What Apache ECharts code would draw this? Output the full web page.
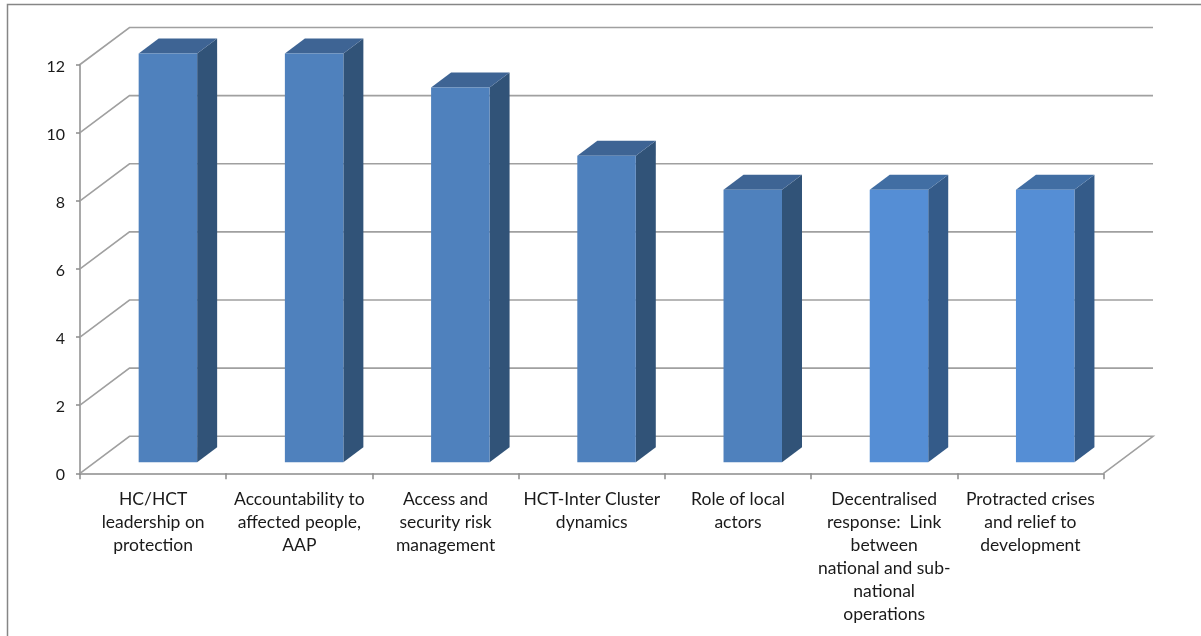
<!DOCTYPE html>
<html>
<head>
<meta charset="utf-8">
<title>Priority topics</title>
<style>
  html, body { margin: 0; padding: 0; background: #ffffff; }
  #chart { width: 1201px; height: 636px; }
</style>
<script src="https://cdn.jsdelivr.net/npm/echarts@6/dist/echarts.min.js"></script>
</head>
<body>
<div id="chart"></div>
<script>
const categories = [
  'HC/HCT\nleadership on\nprotection',
  'Accountability to\naffected people,\nAAP',
  'Access and\nsecurity risk\nmanagement',
  'HCT-Inter Cluster\ndynamics',
  'Role of local\nactors',
  'Decentralised\nresponse:  Link\nbetween\nnational and sub-\nnational\noperations',
  'Protracted crises\nand relief to\ndevelopment'
];
const values = [12, 12, 11, 9, 8, 8, 8];
const valueTicks = [0, 2, 4, 6, 8, 10, 12];

// Face colours for the box drawn at each category
const frontColors = ['#4f81bd', '#4f81bd', '#4f81bd', '#4f81bd', '#4f81bd', '#558ed5', '#558ed5'];
const topColors   = ['#3e6494', '#3e6494', '#3e6494', '#3e6494', '#3e6494', '#416ea3', '#416ea3'];
const sideColors  = ['#315378', '#315378', '#315378', '#315378', '#315378', '#345b89', '#345b89'];

// Oblique projection used for the pseudo-3D walls and boxes
const WALL_DX = 49.5, WALL_DY = -37;
const BOX_INSET_DX = 14.8, BOX_INSET_DY = -11;
const BOX_DX = 20, BOX_DY = -15;
const GRID_COLOR = '#a0a0a0';
const AXIS_COLOR = '#8c8c8c';

function renderWall(params, api) {
  const grid = params.coordSys;
  const p = api.coord([0, api.value(1)]);
  const y = p[1];
  const right = grid.x + grid.width;
  const points = [[grid.x, y], [grid.x + WALL_DX, y + WALL_DY], [right + WALL_DX, y + WALL_DY]];
  if (api.value(1) === 0) points.push([right, y]);
  return {
    type: 'polyline',
    shape: { points },
    style: { fill: 'none', stroke: GRID_COLOR, lineWidth: 1.6 },
    silent: true
  };
}

function renderBox(params, api) {
  const i = params.dataIndex;
  const c = api.coord([api.value(0), api.value(1)]);
  const base = api.coord([api.value(0), 0]);
  const w = api.size([1, 0])[0] * 0.4;
  const x0 = c[0] - w / 2 + BOX_INSET_DX;
  const x1 = x0 + w;
  const yTop = c[1] + BOX_INSET_DY;
  const yBase = base[1] + BOX_INSET_DY;
  return {
    type: 'group',
    children: [
      {
        type: 'polygon',
        shape: { points: [[x1, yTop], [x1 + BOX_DX, yTop + BOX_DY], [x1 + BOX_DX, yBase + BOX_DY], [x1, yBase]] },
        style: { fill: sideColors[i] }
      },
      {
        type: 'polygon',
        shape: { points: [[x0, yTop], [x0 + BOX_DX, yTop + BOX_DY], [x1 + BOX_DX, yTop + BOX_DY], [x1, yTop]] },
        style: { fill: topColors[i] }
      },
      {
        type: 'rect',
        shape: { x: x0, y: yTop, width: w, height: yBase - yTop },
        style: { fill: frontColors[i] }
      }
    ]
  };
}

const chart = echarts.init(document.getElementById('chart'), null, { renderer: 'canvas' });
chart.setOption({
  animation: false,
  backgroundColor: '#ffffff',
  textStyle: { fontFamily: 'Lato, "Open Sans", sans-serif' },
  grid: { left: 80, right: 97.5, top: 64.5, bottom: 162.7, containLabel: false },
  graphic: [{
    type: 'polyline',
    silent: true,
    shape: { points: [[7.5, 636], [7.5, 4.5], [1201, 4.5]] },
    style: { fill: 'none', stroke: '#868686', lineWidth: 1.5 }
  }],
  xAxis: {
    type: 'category',
    data: categories,
    boundaryGap: true,
    axisLine: { lineStyle: { color: AXIS_COLOR, width: 1.5 } },
    axisTick: { show: true, length: 6, alignWithLabel: false, lineStyle: { color: AXIS_COLOR, width: 1.5 } },
    axisLabel: {
      interval: 0,
      margin: 15,
      color: '#1a1a1a',
      fontSize: 17.5,
      lineHeight: 23,
      fontFamily: 'Lato, "Open Sans", sans-serif',
      align: 'center',
      verticalAlign: 'top'
    }
  },
  yAxis: {
    type: 'value',
    min: 0,
    max: 12,
    interval: 2,
    splitLine: { show: false },
    axisLine: { show: true, lineStyle: { color: AXIS_COLOR, width: 1.5 } },
    axisTick: { show: true, length: 4, lineStyle: { color: AXIS_COLOR, width: 1.5 } },
    axisLabel: {
      margin: 15,
      color: '#1a1a1a',
      fontSize: 16,
      verticalAlign: 'top',
      lineHeight: 4,
      fontFamily: 'Lato, "Open Sans", sans-serif'
    }
  },
  series: [
    {
      type: 'custom',
      name: 'Walls',
      silent: true,
      z: 1,
      renderItem: renderWall,
      data: valueTicks.map(v => [0, v])
    },
    {
      type: 'custom',
      name: 'Responses',
      z: 2,
      renderItem: renderBox,
      encode: { x: 0, y: 1 },
      data: values.map((v, i) => [i, v])
    }
  ]
});
</script>
</body>
</html>
